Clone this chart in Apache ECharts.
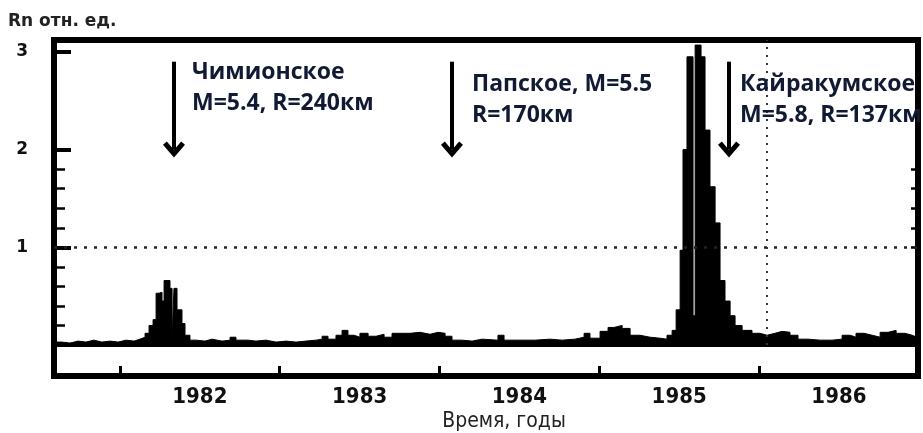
<!DOCTYPE html>
<html>
<head>
<meta charset="utf-8">
<script src="https://cdn.jsdelivr.net/npm/echarts@6/dist/echarts.min.js"></script>
<style>
html,body{margin:0;padding:0;background:#fff}
#chart{width:923px;height:433px}
</style>
</head>
<body>
<div id="chart"></div>
<script>
// время, годы
const times = [
    1981.587, 1981.637, 1981.687, 1981.737, 1981.787, 1981.837, 1981.887, 1981.938, 1981.988, 1982.038,
    1982.088, 1982.125, 1982.157, 1982.182, 1982.207, 1982.226, 1982.244, 1982.263, 1982.276, 1982.313,
    1982.326, 1982.338, 1982.357, 1982.388, 1982.407, 1982.438, 1982.476, 1982.532, 1982.576, 1982.639,
    1982.689, 1982.726, 1982.801, 1982.851, 1982.914, 1982.977, 1983.039, 1983.102, 1983.164, 1983.227,
    1983.265, 1983.302, 1983.352, 1983.390, 1983.427, 1983.465, 1983.502, 1983.553, 1983.603, 1983.653,
    1983.703, 1983.753, 1983.816, 1983.878, 1983.941, 1983.991, 1984.035, 1984.078, 1984.141, 1984.204,
    1984.266, 1984.366, 1984.404, 1984.504, 1984.598, 1984.692, 1984.767, 1984.848, 1984.905, 1984.942,
    1985.005, 1985.055, 1985.092, 1985.143, 1985.193, 1985.255, 1985.318, 1985.380, 1985.424, 1985.456,
    1985.481, 1985.506, 1985.524, 1985.549, 1985.587, 1985.600, 1985.637, 1985.662, 1985.693, 1985.725,
    1985.756, 1985.787, 1985.819, 1985.850, 1985.894, 1985.956,
    1986.006, 1986.050, 1986.100, 1986.144, 1986.194, 1986.244, 1986.307, 1986.382, 1986.457, 1986.520,
    1986.570, 1986.607, 1986.657, 1986.708, 1986.758, 1986.808, 1986.858, 1986.914, 1986.958, 1986.989
];
// Rn, отн. ед.
const radon = [
    0.03, 0.02, 0.04, 0.03, 0.05, 0.03, 0.04, 0.03, 0.05, 0.04,
    0.06, 0.08, 0.12, 0.20, 0.26, 0.53, 0.54, 0.45, 0.66, 0.58,
    0.05, 0.58, 0.36, 0.22, 0.10, 0.05, 0.04, 0.06, 0.04, 0.05,
    0.08, 0.05, 0.04, 0.05, 0.03, 0.04, 0.03, 0.04, 0.05, 0.06,
    0.09, 0.06, 0.10, 0.15, 0.10, 0.08, 0.12, 0.09, 0.11, 0.08,
    0.12, 0.12, 0.13, 0.11, 0.13, 0.12, 0.09, 0.05, 0.04, 0.06,
    0.05, 0.10, 0.05, 0.05, 0.06, 0.05, 0.06, 0.08, 0.12, 0.07,
    0.14, 0.18, 0.20, 0.17, 0.10, 0.08, 0.07, 0.06, 0.10, 0.15,
    0.36, 0.97, 2.00, 2.95, 0.30, 3.07, 2.95, 2.20, 1.62, 1.25,
    0.66, 0.45, 0.30, 0.20, 0.15, 0.12,
    0.10, 0.12, 0.14, 0.13, 0.10, 0.06, 0.05, 0.05, 0.06, 0.10,
    0.08, 0.12, 0.10, 0.08, 0.13, 0.15, 0.12, 0.10, 0.08, 0.08
];
const yearTicks = [1982, 1983, 1984, 1985, 1986];
const yearLabels = [1982.5, 1983.5, 1984.5, 1985.5, 1986.5];
const rnLabels = [1, 2, 3];
const rnMinor = [0.2, 0.4, 0.6, 0.8, 1.2, 1.4, 1.6, 1.8];
const rnRightTicks = [1, 1.2, 1.4, 1.6, 1.8];
// землетрясения
const quakeTimes = [1982.338, 1984.078, 1985.812];
const quakeText = [
    ['Чимионское', 'M=5.4, R=240км'],
    ['Папское, M=5.5', 'R=170км'],
    ['Кайракумское', 'M=5.8, R=137км']
];
const markTime = 1986.05;

const X_MIN = 1981.587, X_MAX = 1986.995, Y_MIN = -0.317, Y_MAX = 3.122;
const chevron = 'path://M0,10 L10,0 L20,10 L16.5,12.5 L10,6 L3.5,12.5 Z';
const textColor = '#121a33';
const narrow = '"Liberation Sans Narrow", "DejaVu Sans Condensed", sans-serif';

const myChart = echarts.init(document.getElementById('chart'));

const lines = [
    {yAxis: 0, lineStyle: {type: 'solid', width: 4, color: '#000'}},
    {yAxis: 1, lineStyle: {type: [3, 7], width: 2.5, color: '#222'}},
    [{coord: [markTime, 0], lineStyle: {type: [2, 6], width: 2, color: '#333'}}, {coord: [markTime, Y_MAX]}]
];
quakeTimes.forEach(t => {
    lines.push([
        {coord: [t, 2.9], symbol: 'none', lineStyle: {type: 'solid', width: 4, color: '#000'}},
        {coord: [t, 2.0], symbol: chevron, symbolSize: [22, 16]}
    ]);
});

const graphics = [
    {type: 'text', x: 8, y: 13, style: {text: 'Rn отн. ед.', fill: '#222', font: 'bold 17px "DejaVu Sans"'}},
    {type: 'text', x: 504, y: 411, style: {text: 'Время, годы', fill: '#222', textAlign: 'center', font: '21px ' + narrow}}
];
const textPos = [[192, 61, 92], [472, 73, 104], [740, 73, 104]];
quakeText.forEach((pair, i) => {
    pair.forEach((s, j) => {
        graphics.push({type: 'text', x: textPos[i][0], y: textPos[i][j + 1], z: 100,
            style: {text: s, fill: textColor, font: 'bold 23px "Open Sans"'}});
    });
});

const tickAxis = (values, len, width, pos) => ({
    type: 'value', min: Y_MIN, max: Y_MAX, position: pos,
    axisLine: {show: false, onZero: false}, splitLine: {show: false},
    axisLabel: {show: false},
    axisTick: {show: true, inside: true, length: len, customValues: values, lineStyle: {color: '#000', width: width}}
});

myChart.setOption({
    animation: false,
    backgroundColor: '#ffffff',
    grid: {left: 54, top: 40, right: 5, bottom: 57, show: true, borderColor: '#000', borderWidth: 6, backgroundColor: 'transparent'},
    xAxis: {
        type: 'value', min: X_MIN, max: X_MAX, position: 'bottom',
        axisLine: {show: false, onZero: false}, splitLine: {show: false},
        axisTick: {show: true, inside: true, length: 10, customValues: yearTicks, lineStyle: {color: '#000', width: 3}},
        axisLabel: {customValues: yearLabels, formatter: v => Math.floor(v), margin: 10, color: '#111',
            fontFamily: narrow, fontWeight: 'bold', fontSize: 22}
    },
    yAxis: [
        {
            type: 'value', min: Y_MIN, max: Y_MAX, position: 'left',
            axisLine: {show: false, onZero: false}, splitLine: {show: false},
            axisTick: {show: true, inside: true, length: 17, customValues: rnLabels, lineStyle: {color: '#000', width: 4}},
            axisLabel: {customValues: rnLabels, margin: 26, color: '#111', fontFamily: 'DejaVu Sans', fontWeight: 'bold', fontSize: 17}
        },
        tickAxis(rnMinor, 11, 2.5, 'left'),
        tickAxis(rnRightTicks, 7, 2.5, 'right')
    ],
    graphic: graphics,
    series: [{
        type: 'line',
        data: times.map((t, i) => [t, radon[i]]),
        step: 'end',
        showSymbol: false,
        lineStyle: {color: '#000', width: 1},
        areaStyle: {color: '#000', opacity: 1},
        markLine: {silent: true, symbol: 'none', label: {show: false}, animation: false, data: lines}
    }]
});
</script>
</body>
</html>
